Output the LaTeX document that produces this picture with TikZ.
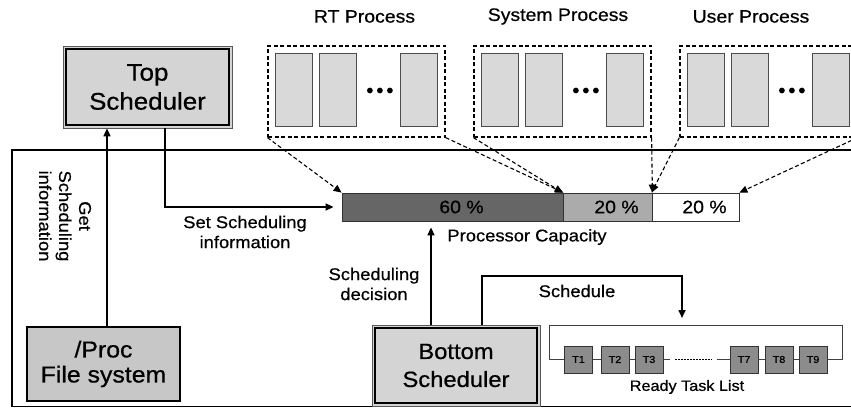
\documentclass[tikz,border=0pt]{standalone}
\usepackage{fontspec}
\setmainfont[FakeStretch=1.08,FakeBold=0.6]{Liberation Sans}
\usetikzlibrary{arrows.meta,calc}
\begin{document}
\begin{tikzpicture}[x=1pt,y=-1pt,
  bigbox/.style={draw=black!65, line width=0.7pt, fill=black!17, align=center, inner sep=0pt},
  procbox/.style={draw=black, line width=1.2pt, fill=black!22, align=center, inner sep=0pt},
  grp/.style={draw, line width=1.2pt, dash pattern=on 4pt off 2.5pt, minimum width=177pt, minimum height=91pt, inner sep=0pt},
  prect/.style={draw=black!70, line width=0.8pt, fill=black!15, minimum width=37pt, minimum height=73pt, inner sep=0pt},
  seg/.style={draw=black!80, line width=0.8pt, minimum height=28pt, inner sep=0pt, font=\fontsize{18}{20}\selectfont},
  tbox/.style={draw=black!80, line width=0.6pt, fill=black!45, minimum width=28pt, minimum height=27pt, inner sep=0pt, font=\fontsize{10}{12}\selectfont},
  conn/.style={line width=1.6pt, -{Triangle[length=8pt,width=7pt]}},
  dconn/.style={line width=1.1pt, dash pattern=on 4pt off 2.5pt, -{Triangle[length=8pt,width=7pt]}},
  lbl/.style={font=\fontsize{17}{20}\selectfont, align=center, inner sep=0pt},
  ttl/.style={font=\fontsize{18}{21}\selectfont, inner sep=0pt},
  link/.style={line width=0.8pt, black!75}
]
\path[use as bounding box] (0,0) rectangle (851,409);
\clip (0,0) rectangle (851,409);

% process groups
\foreach \n/\cx/\tx/\tt in {rt/356.5/364.5/RT Process, sys/562.5/558/System Process, usr/768.5/751/User Process}{
  \node[grp] (\n) at (\cx,91.5) {};
  \node[prect] (\n a) at ($(\n.west)+(26.5,-2)$) {};
  \node[prect] (\n b) at ($(\n.west)+(70,-2)$) {};
  \node[prect] (\n c) at ($(\n.west)+(151.5,-2)$) {};
  \fill ($(\n.west)+(102.5,-1)$) circle (2.9pt);
  \fill ($(\n.west)+(112.5,-1)$) circle (2.9pt);
  \fill ($(\n.west)+(122.5,-1)$) circle (2.9pt);
  \node[ttl] (\n t) at (\tx,16.5) {\tt};
}

% processor capacity bar
\node[seg, fill=black!60, minimum width=221pt] (s60) at (452.5,207) {\hspace*{18pt}60 \%};
\node[seg, fill=black!33, minimum width=89pt] (s20a) at (607.5,207) {\hspace*{18pt}20 \%};
\node[seg, fill=white, minimum width=87pt] (s20b) at (695.5,207) {\hspace*{18pt}20 \%};
\node[lbl] (pc) at (527,237) {Processor Capacity};

% dashed connectors
\draw[dconn] (rt.south west) -- (s60.north west);
\draw[dconn] (rt.south east) -- (s60.north east);
\draw[dconn] (sys.south west) -- (s20a.north west);
\draw[dconn] (sys.south east) -- (s20a.north east);
\draw[dconn] (usr.south west) -- (s20b.north west);
\draw[dconn] (usr.south east) -- (s20b.north east);

% frame
\draw[line width=1.8pt] (12,150) rectangle (900,406.5);

% schedulers
\node[bigbox, minimum width=169pt, minimum height=82pt, font=\fontsize{24}{29}\selectfont] (top) at (147.5,87) {Top\\Scheduler};
\draw[line width=1.6pt] ($(top.north west)+(3.5,3.5)$) rectangle ($(top.south east)+(-3.5,-3.5)$);
\node[bigbox, minimum width=168pt, minimum height=81pt, font=\fontsize{22}{28}\selectfont] (bot) at (456,365.5) {Bottom\\Scheduler};
\draw[line width=1.6pt] ($(bot.north west)+(3.5,3.5)$) rectangle ($(bot.south east)+(-3.5,-3.5)$);
\node[procbox, minimum width=153pt, minimum height=74pt, font=\fontsize{23}{25}\selectfont] (proc) at (103.5,364) {/Proc\\File system};

% connectors
\draw[conn] (proc.north -| 107,0) -- (top.south -| 107,0);
\node[lbl, rotate=-90] (getl) at (65,216) {Get\\Scheduling\\information};
\draw[conn, shorten >=8pt] (top.south -| 165,0) |- (s60.west);
\node[lbl] (setl) at (245,232) {Set Scheduling\\information};
\draw[conn, shorten >=6pt] (bot.north -| 431,0) -- (s60.south -| 431,0);
\node[lbl] (decl) at (374,284) {Scheduling\\decision};
\coordinate (sch) at (682,318);
\draw[conn] (bot.north -| 482,0) -- (482,276) -| (sch);
\node[lbl] (schl) at (577,291) {Schedule};

% ready task list
\foreach \n/\x in {1/578.5,2/615,3/649,7/744,8/779,9/813}{
  \node[tbox] (t\n) at (\x,359.5) {T\n};
}
\draw[link] (t1.west) -- (t1.west -| 549,0) -- (549,325) -- (842,325) -- (t9.east -| 842,0) -- (t9.east);
\draw[link] (t1) -- (t2) -- (t3);
\draw[link] (t7) -- (t8) -- (t9);
\draw[link] (t3.east) -- ($(t3.east)+(7,0)$);
\draw[line width=1.2pt, dash pattern=on 2pt off 1pt] ($(t3.east)+(12,0)$) -- ($(t7.west)+(-18,0)$);
\draw[link] ($(t7.west)+(-13,0)$) -- (t7.west);
\node[font=\fontsize{15}{18}\selectfont, inner sep=0pt] (rtl) at (687,387) {Ready Task List};
\end{tikzpicture}
\end{document}
